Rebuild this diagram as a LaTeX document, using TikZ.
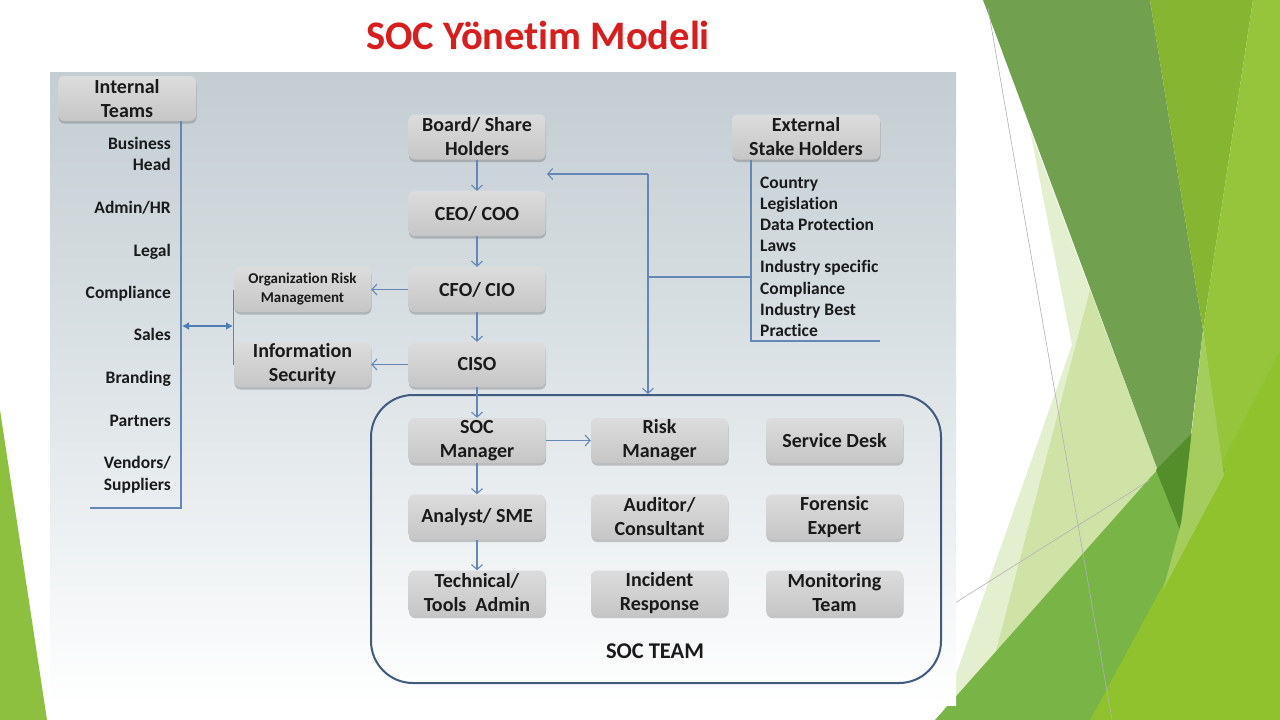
\documentclass[tikz,border=0pt]{standalone}
\usepackage{fontspec}
\setmainfont{Carlito}[RawFeature={-liga}]
\usetikzlibrary{arrows.meta,shadows}
\definecolor{panelTop}{HTML}{C3CDD2}
\definecolor{panelMid}{HTML}{DEE4E7}
\definecolor{boxTop}{HTML}{DCDCDC}
\definecolor{boxBot}{HTML}{C6C6C6}
\definecolor{lineBlue}{HTML}{6388B8}
\definecolor{dblBlue}{HTML}{4F7CB6}
\definecolor{teamBlue}{HTML}{3F5B7F}
\definecolor{txt}{HTML}{1A1A1A}
\definecolor{titleRed}{HTML}{DA1C1C}
\definecolor{gOlive}{HTML}{71A04F}
\definecolor{gBand}{HTML}{86B532}
\definecolor{gBright}{HTML}{96C53C}
\definecolor{gLower}{HTML}{8FC22C}
\definecolor{gMid}{HTML}{78B446}
\definecolor{gDark}{HTML}{538E2A}
\definecolor{gLight}{HTML}{A4CD5E}
\definecolor{gPale}{HTML}{E3EFCE}
\definecolor{gPaleB}{HTML}{CFE3A6}
\definecolor{gLeft}{HTML}{8DC03F}
\tikzset{
  box/.style={rounded corners=6pt, top color=boxTop, bottom color=boxBot,
    drop shadow={shadow xshift=0.5pt, shadow yshift=-2.5pt, opacity=0.35, fill=black!60},
    minimum width=137pt, minimum height=45pt, inner sep=0pt, align=center,
    text=txt, font=\fontsize{20}{24}\selectfont\bfseries},
  smallbox/.style={box, font=\fontsize{15}{19}\selectfont\bfseries},
  teambox/.style={draw=teamBlue, line width=2pt, rounded corners=42pt,
    minimum width=570pt, minimum height=288pt, inner sep=0pt},
  item/.style={anchor=base east, inner sep=0pt, text=txt, font=\fontsize{17.5}{21}\selectfont\bfseries},
  xitem/.style={anchor=base west, inner sep=0pt, text=txt, font=\fontsize{17.5}{21}\selectfont\bfseries},
  tline/.style={draw=lineBlue, line width=1.1pt},
  conn/.style={tline, -{Straight Barb[length=5pt,width=11pt]}},
  dbl/.style={draw=dblBlue, line width=2.2pt, {Latex[length=7pt,width=8pt]}-{Latex[length=7pt,width=8pt]}},
  gline/.style={draw=black!30, line width=0.6pt}
}
\begin{document}
\begin{tikzpicture}[x=1pt,y=-1pt]
\useasboundingbox (0,0) rectangle (1280,720);
\fill[white] (0,0) rectangle (1280,720);

% green decoration, right side
\fill[gPale] (1030,130) -- (1180,530) -- (940,720) -- (1072,345) -- cycle;
\fill[gPaleB] (1090,290) -- (1180,530) -- (995,655) -- cycle;
\fill[gOlive] (983,0) -- (1150,0) -- (1203,330) -- (1180,530) -- cycle;
\fill[gBand] (1150,0) -- (1253,0) -- (1203,330) -- cycle;
\fill[gBright] (1253,0) -- (1280,0) -- (1280,720) -- (1090,720) -- (1222,470) -- (1203,330) -- cycle;
\fill[gLower] (1090,720) -- (1280,350) -- (1280,720) -- cycle;
\fill[gMid] (935,720) -- (1150,478) -- (1195,430) -- (1225,470) -- (1090,720) -- cycle;
\fill[gDark] (1156,470) -- (1192,433) -- (1180,530) -- cycle;
\fill[gLight] (1203,330) -- (1224,475) -- (1163,590) -- (1182,520) -- cycle;
\draw[gline] (988,8) -- (1112,720);
\draw[gline] (955,603) -- (1150,480);
% green decoration, left side
\fill[gLeft] (0,410) -- (47,720) -- (0,720) -- cycle;

% panel
\fill[top color=panelTop, bottom color=white, middle color=panelMid] (50,72) rectangle (956,705);

% title
\node[text=titleRed, font=\fontsize{40.5}{48}\selectfont\bfseries] (title) at (538,35) {SOC Yönetim Modeli};

% internal teams
\node[box, minimum width=138pt] (intl) at (127,98.5) {Internal\\Teams};
\node[item] (i1) at (171,149) {Business};
\node[item] (i2) at (171,170) {Head};
\node[item] (i3) at (171,213) {Admin/HR};
\node[item] (i4) at (171,256) {Legal};
\node[item] (i5) at (171,298) {Compliance};
\node[item] (i6) at (171,340) {Sales};
\node[item] (i7) at (171,383) {Branding};
\node[item] (i8) at (171,426) {Partners};
\node[item] (i9) at (171,468) {Vendors/};
\node[item] (i10) at (171,490) {Suppliers};
\coordinate (ic) at (181,508);
\coordinate (ib) at (90,508);
\draw[tline] (intl.south -| ic) -- (ic) -- (ib);

% org risk / info sec
\node[smallbox] (org) at (302.5,289.5) {Organization Risk\\Management};
\node[box] (isec) at (302.5,364.5) {Information\\Security};
\draw[tline] (org.west) -- (isec.west);
\coordinate (dA) at (182,326);
\coordinate (dB) at (233,326);
\draw[dbl] (dA) -- (dB);

% main chain
\node[box] (board) at (477,137) {Board/ Share\\Holders};
\node[box] (ceo) at (477,213.5) {CEO/ COO};
\node[box] (cfo) at (477,289.5) {CFO/ CIO};
\node[box] (ciso) at (477,364.5) {CISO};
\draw[conn] (board.south) -- (ceo.north);
\draw[conn] (ceo.south) -- (cfo.north);
\draw[conn] (cfo.south) -- (ciso.north);
\draw[conn] (cfo.west) -- (org.east);
\draw[conn] (ciso.west) -- (isec.east);

% external stake holders
\node[box, minimum width=148pt] (ext) at (806,137) {External\\Stake Holders};
\node[xitem] (x1) at (760,188) {Country};
\node[xitem] (x2) at (760,209) {Legislation};
\node[xitem] (x3) at (760,230) {Data Protection};
\node[xitem] (x4) at (760,251) {Laws};
\node[xitem] (x5) at (760,272) {Industry specific};
\node[xitem] (x6) at (760,294) {Compliance};
\node[xitem] (x7) at (760,315) {Industry Best};
\node[xitem] (x8) at (760,336) {Practice};
\coordinate (ec) at (751,341);
\coordinate (ee) at (880,341);
\draw[tline] (ext.south -| ec) -- (ec) -- (ee);

% SOC team
\node[teambox] (team) at (656,539) {};
\node[text=txt, font=\fontsize{22.5}{26}\selectfont\bfseries] (tlabel) at (655,651) {SOC TEAM};
\node[box] (socm) at (477,440.5) {SOC\\Manager};
\node[box] (risk) at (659.5,440.5) {Risk\\Manager};
\node[box] (desk) at (834.5,440.5) {Service Desk};
\node[box] (anal) at (477,517) {Analyst/ SME};
\node[box] (audit) at (659.5,517) {Auditor/\\Consultant};
\node[box] (foren) at (834.5,517) {Forensic\\Expert};
\node[box] (tech) at (477,593) {Technical/\\Tools\ \ Admin};
\node[box] (inc) at (659.5,593) {Incident\\Response};
\node[box] (mon) at (834.5,593) {Monitoring\\Team};
\draw[conn] (ciso.south) -- (socm.north);
\draw[conn] (socm.east) -- (risk.west);
\draw[conn] (socm.south) -- (anal.north);
\draw[conn] (anal.south) -- (tech.north);

% connector from external stake holders
\coordinate (j1) at (751,277);
\coordinate (j2) at (648,277);
\coordinate (j3) at (648,174);
\coordinate (j4) at (547,174);
\draw[tline] (j1) -- (j2);
\draw[conn] (j3) -- (j4);
\draw[conn] (j3) -- (j3 |- team.north);
\end{tikzpicture}
\end{document}
